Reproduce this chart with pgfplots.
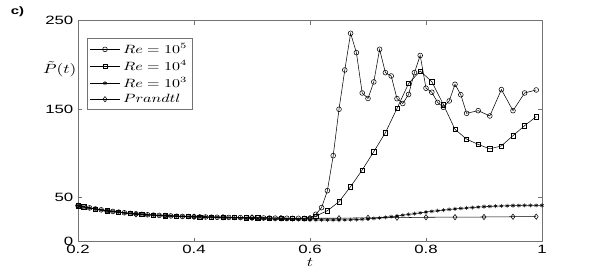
\documentclass[border=0pt]{standalone}
\usepackage{pgfplots}
\pgfplotsset{compat=1.18}
\usepackage{fontspec}
\usepackage{graphicx}
\newfontfamily\tickfont[FakeStretch=1.4]{Liberation Sans}
\definecolor{axgray}{gray}{0.45}
\begin{document}
\begin{tikzpicture}
\begin{axis}[
 scale only axis, width=348pt, height=165.75pt,
 xmin=0.2, xmax=1, ymin=0, ymax=250,
 xtick={0.2,0.4,0.6,0.8,1}, ytick={0,50,150,250},
 xticklabels={0.2,0.4,0.6,0.8,1}, yticklabels={0,50,150,250},
 tick align=inside, major tick length=3pt,
 axis line style={axgray, line width=0.6pt}, tick style={axgray, line width=0.5pt},
 ticklabel style={font=\tickfont\fontsize{9}{10}\selectfont, text=black},
 xticklabel style={yshift=1pt},
 every axis plot/.append style={black, line width=0.4pt, mark size=1.8pt},
 every mark/.append style={xscale=1.3, solid, fill=white},
 legend style={at={(0.02,0.92)}, anchor=north west, draw=axgray, font=\small, row sep=-0.5pt, inner sep=1.5pt},
 legend cell align=left,
 legend image code/.code={\draw[mark repeat=2,mark phase=2] plot coordinates {(0cm,0cm) (0.4cm,0cm) (0.8cm,0cm)};},
 clip=false,
]
% Re = 10^5 (circles)
\addplot[black, mark=o] coordinates {
(0.20,40.7)(0.21,39.4)(0.22,38.2)(0.23,37.0)(0.24,36.0)(0.25,35.0)(0.26,34.2)(0.27,33.4)(0.28,32.7)(0.29,32.0)
(0.30,31.4)(0.31,30.9)(0.32,30.4)(0.33,30.0)(0.34,29.7)(0.35,29.4)(0.36,29.1)(0.37,28.8)(0.38,28.6)(0.39,28.4)
(0.40,28.2)(0.41,28.0)(0.42,27.9)(0.43,27.7)(0.44,27.6)(0.45,27.5)(0.46,27.4)(0.47,27.3)(0.48,27.2)(0.49,27.1)
(0.50,27.0)(0.51,26.9)(0.52,26.8)(0.53,26.7)(0.54,26.6)(0.55,26.5)(0.56,26.5)(0.57,26.4)(0.58,26.4)(0.59,26.3)
(0.60,26.6)(0.61,31.0)(0.62,38.5)(0.63,57.7)(0.64,97.3)(0.65,149.8)(0.66,194.2)(0.67,235.7)(0.68,213.8)(0.69,168.2)
(0.70,162.0)(0.71,180.7)(0.72,217.6)(0.73,191.2)(0.74,187.4)(0.75,161.8)(0.76,156.3)(0.77,166.5)(0.78,191.2)(0.79,210.6)
(0.80,173.6)(0.81,169.0)(0.82,157.5)(0.83,152.0)(0.84,159.2)(0.85,178.0)(0.86,166.2)(0.87,145.2)(0.89,148.2)(0.91,142.2)
(0.93,172.0)(0.95,148.2)(0.97,168.2)(0.99,171.6)
};
\addlegendentry{\scalebox{1.3}[1]{$Re=10^5$}}
% Re = 10^4 (squares)
\addplot[black, mark=square, mark size=1.6pt] coordinates {
(0.20,40.7)(0.21,39.4)(0.23,37.0)(0.25,35.0)(0.27,33.4)(0.29,32.0)(0.31,30.9)(0.33,30.0)(0.35,29.4)(0.37,28.8)(0.39,28.4)
(0.41,28.0)(0.43,27.7)(0.45,27.5)(0.47,27.3)(0.49,27.1)(0.51,26.9)(0.53,26.7)(0.55,26.5)(0.57,26.4)(0.59,26.4)
(0.61,29.0)(0.63,35.0)(0.65,45.2)(0.67,62.2)(0.69,81.1)(0.71,101.8)(0.73,123.3)(0.75,150.7)(0.77,179.0)(0.79,193.0)
(0.81,181.0)(0.83,155.0)(0.85,127.0)(0.87,116.0)(0.89,110.0)(0.91,105.0)(0.93,108.3)(0.95,119.9)(0.97,131.2)(0.99,141.4)
};
\addlegendentry{\scalebox{1.3}[1]{$Re=10^4$}}
% Re = 10^3 (asterisks)
\addplot[black, mark=asterisk, mark size=1.5pt] coordinates {
(0.20,40.7)(0.21,39.4)(0.22,38.2)(0.23,37.0)(0.24,36.0)(0.25,35.0)(0.26,34.2)(0.27,33.4)(0.28,32.7)(0.29,32.0)
(0.30,31.4)(0.31,30.9)(0.32,30.4)(0.33,30.0)(0.34,29.7)(0.35,29.4)(0.36,29.1)(0.37,28.8)(0.38,28.6)(0.39,28.4)
(0.40,28.2)(0.41,28.0)(0.42,27.9)(0.43,27.7)(0.44,27.6)(0.45,27.4)(0.46,27.2)(0.47,27.0)(0.48,26.7)(0.49,26.4)
(0.50,26.1)(0.51,25.9)(0.52,25.7)(0.53,25.5)(0.54,25.3)(0.55,25.1)(0.56,25.0)(0.57,24.9)(0.58,24.8)(0.59,24.7)
(0.60,24.6)(0.61,24.5)(0.62,24.5)(0.63,24.5)(0.64,24.5)(0.65,24.5)(0.66,24.6)(0.67,24.8)(0.68,25.0)(0.69,25.3)
(0.70,25.7)(0.71,26.3)(0.72,26.9)(0.73,27.6)(0.74,28.3)(0.75,29.0)(0.76,29.9)(0.77,30.8)(0.78,31.7)(0.79,32.6)
(0.80,33.5)(0.81,34.3)(0.82,35.0)(0.83,35.7)(0.84,36.4)(0.85,37.0)(0.86,37.6)(0.87,38.1)(0.88,38.6)(0.89,39.1)
(0.90,39.6)(0.91,39.9)(0.92,40.2)(0.93,40.4)(0.94,40.6)(0.95,40.8)(0.96,40.9)(0.97,41.0)(0.98,41.0)(0.99,41.0)(1.00,41.0)
};
\addlegendentry{\scalebox{1.3}[1]{$Re=10^3$}}
% Prandtl (diamonds)
\addplot[black, mark=diamond, mark size=2pt] coordinates {
(0.20,40.7)(0.25,34.5)(0.30,31.0)(0.35,29.4)(0.40,28.3)(0.45,27.6)(0.50,27.4)(0.55,26.7)(0.60,26.5)
(0.65,26.5)(0.70,27.0)(0.75,27.1)(0.80,27.6)(0.85,27.7)(0.90,27.9)(0.95,28.2)(0.99,28.3)
};
\addlegendentry{\scalebox{1.3}[1]{$Prandtl$}}
\node[anchor=east, inner sep=1pt] at (rel axis cs:0,0.78) {\scalebox{1.3}[1]{$\tilde{P}(t)$}};
\node[inner sep=0pt] at (rel axis cs:0.5,0) [yshift=-15.5pt] {\scalebox{1.3}[1]{$t$}};
\node[inner sep=0pt] at (rel axis cs:0,1) [xshift=-45.4pt, yshift=6.9pt] {\tickfont\bfseries\fontsize{8}{9}\selectfont c)};
\end{axis}
\path[use as bounding box] ([xshift=-58.5pt,yshift=-23.5pt]current axis.south west) rectangle ([xshift=42.75pt,yshift=15.5pt]current axis.north east);
\end{tikzpicture}
\end{document}
